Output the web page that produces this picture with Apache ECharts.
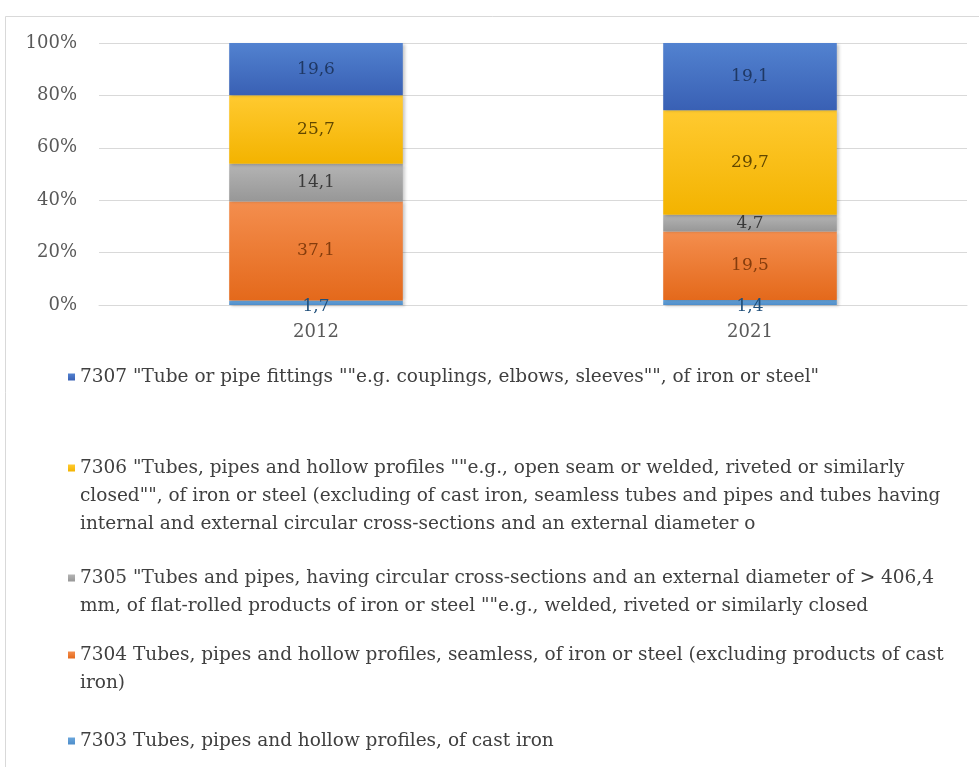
<!DOCTYPE html>
<html>
<head>
<meta charset="utf-8">
<script src="https://cdn.jsdelivr.net/npm/echarts@6/dist/echarts.min.js"></script>
<style>
  html, body { margin: 0; padding: 0; background: #ffffff; }
  #chart { width: 979px; height: 767px; }
</style>
</head>
<body>
<div id="chart"></div>
<script>
// Years on the category axis
const years = ['2012', '2021'];

// HS headings, stacked from the bottom of each bar upward
const codes = ['7303', '7304', '7305', '7306', '7307'];

// Legend descriptions, already broken into display lines
const legendLines = [
  ['7303 Tubes, pipes and hollow profiles, of cast iron'],
  ['7304 Tubes, pipes and hollow profiles, seamless, of iron or steel (excluding products of cast',
   'iron)'],
  ['7305 "Tubes and pipes, having circular cross-sections and an external diameter of > 406,4',
   'mm, of flat-rolled products of iron or steel ""e.g., welded, riveted or similarly closed'],
  ['7306 "Tubes, pipes and hollow profiles ""e.g., open seam or welded, riveted or similarly',
   'closed"", of iron or steel (excluding of cast iron, seamless tubes and pipes and tubes having',
   'internal and external circular cross-sections and an external diameter o'],
  ['7307 "Tube or pipe fittings ""e.g. couplings, elbows, sleeves"", of iron or steel"']
];

// Values per heading, one entry per year
const v7303 = [1.7, 1.4];
const v7304 = [37.1, 19.5];
const v7305 = [14.1, 4.7];
const v7306 = [25.7, 29.7];
const v7307 = [19.6, 19.1];

// Y axis ticks (percent of the yearly total)
const yTicks = [0, 20, 40, 60, 80, 100];

const values = [v7303, v7304, v7305, v7306, v7307];

const FONT = 'DejaVu Serif';
const gradients = [
  ['#6aa6dc', '#4d8dca'],
  ['#f48e4e', '#e4691b'],
  ['#b4b4b4', '#979797'],
  ['#ffca30', '#f3b300'],
  ['#5282d0', '#3960b4']
];
const labelColors = ['#1f4e79', '#843c0c', '#3a3a3a', '#614700', '#1f3864'];

// First-line centre of each legend entry, and the spacing of wrapped lines
const legendFirstLine = [741, 655, 578, 468, 377];
const LINE_H = 28;

const totals = years.map((_, j) => values.reduce((s, arr) => s + arr[j], 0));
const names = legendLines.map(l => l.join('\n'));

const series = values.map((arr, i) => ({
  name: names[i],
  type: 'bar',
  stack: 'share',
  barWidth: '40%',
  data: arr.map((v, j) => ({ value: v / totals[j] * 100, raw: v })),
  itemStyle: {
    color: new echarts.graphic.LinearGradient(0, 0, 0, 1, [
      { offset: 0, color: gradients[i][0] },
      { offset: 1, color: gradients[i][1] }
    ]),
    shadowColor: 'rgba(0,0,0,0.22)',
    shadowBlur: 3,
    shadowOffsetX: 2,
    shadowOffsetY: 1
  },
  label: {
    show: true,
    position: 'inside',
    offset: i === 0 ? [0, 4] : [0, 0],
    color: labelColors[i],
    fontFamily: FONT,
    fontSize: 17,
    formatter: p => String(p.data.raw).replace('.', ',')
  },
  emphasis: { disabled: true }
}));

// One legend block per heading so that each wrapped entry keeps its own spacing
const legends = names.map((name, i) => {
  const n = legendLines[i].length;
  return {
    data: [{ name: name, icon: 'rect' }],
    left: 68,
    top: legendFirstLine[i] - LINE_H / 2 - (n - 1) * LINE_H,
    padding: 0,
    itemWidth: 7,
    itemHeight: 7,
    textStyle: {
      fontFamily: FONT,
      fontSize: 18.5,
      color: '#404040',
      lineHeight: LINE_H
    },
    formatter: nm => '\n'.repeat(n - 1) + nm
  };
});

const chart = echarts.init(document.getElementById('chart'), null, { renderer: 'canvas' });
chart.setOption({
  backgroundColor: '#ffffff',
  animation: false,
  textStyle: { fontFamily: FONT },
  graphic: [{
    type: 'rect',
    shape: { x: 5.5, y: 16.5, width: 1000, height: 800 },
    style: { fill: 'none', stroke: '#d9d9d9', lineWidth: 1 },
    silent: true,
    z: -10
  }],
  grid: { left: 99, right: 12, top: 43, bottom: 462 },
  legend: legends,
  xAxis: {
    type: 'category',
    data: years,
    axisLine: { lineStyle: { color: '#d9d9d9' } },
    axisTick: { show: false },
    axisLabel: { color: '#595959', fontFamily: FONT, fontSize: 18, margin: 18 }
  },
  yAxis: {
    type: 'value',
    min: yTicks[0],
    max: yTicks[yTicks.length - 1],
    interval: yTicks[1] - yTicks[0],
    axisLine: { show: false },
    axisTick: { show: false },
    splitLine: { lineStyle: { color: '#d9d9d9' } },
    axisLabel: { color: '#595959', fontFamily: FONT, fontSize: 18, margin: 22, formatter: '{value}%' }
  },
  series: series
});
</script>
</body>
</html>
